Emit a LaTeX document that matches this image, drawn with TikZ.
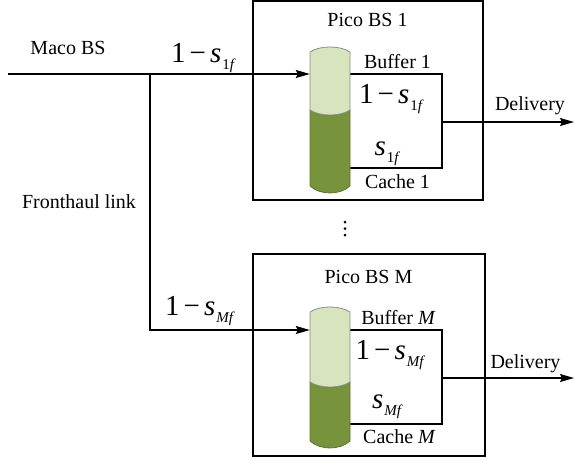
\documentclass[tikz,border=0pt]{standalone}
\usepackage{fontspec}
\setmainfont{Liberation Serif}
\usetikzlibrary{arrows.meta}
\definecolor{bufferfill}{HTML}{D7E4BD}
\definecolor{cachefill}{HTML}{77933C}
\definecolor{bufferedge}{HTML}{8C8C8C}
\definecolor{cacheedge}{HTML}{5E7530}
% small index set below the baseline
\newcommand\subtxt[1]{\kern1pt\raisebox{-7pt}{\fontsize{15}{15}\selectfont #1}}
% "1 - s_x" and "s_x" labels
\newcommand\ratiolbl[1]{1\kern4pt−\kern4pt\textit{s}\subtxt{#1}}
\newcommand\hitlbl[1]{\textit{s}\subtxt{#1}}

\begin{document}
\begin{tikzpicture}[x=1pt,y=-1pt,
  lbl/.style={inner sep=0pt, anchor=base, font=\fontsize{20}{24}\selectfont},
  mathlbl/.style={inner sep=0pt, anchor=base, font=\fontsize{29}{34}\selectfont},
  picobox/.style={draw, line width=1.1pt, inner sep=0pt},
  wire/.style={line width=1.1pt},
  flow/.style={wire, -{Stealth[length=14pt,width=8pt,inset=2pt]}},
  cylslot/.style={inner sep=0pt, minimum width=40pt},
  % stacked buffer/cache cylinder: #1 split depth, #2 bottom depth, #3 top bulge
  pics/cylinder/.style n args={3}{code={
    \filldraw[fill=cachefill, draw=cacheedge, line width=0.8pt]
      (0,#1) .. controls (10,#1+6.7) and (30,#1+6.7) .. (40,#1)
      -- (40,#2) .. controls (30,#2+9.3) and (10,#2+9.3) .. (0,#2) -- cycle;
    \filldraw[fill=bufferfill, draw=bufferedge, line width=0.8pt]
      (0,0) .. controls (10,-#3) and (30,-#3) .. (40,0)
      -- (40,#1) .. controls (30,#1+6.7) and (10,#1+6.7) .. (0,#1) -- cycle;
  }}
]
\useasboundingbox (0,0) rectangle (574,461);

% pico base station frames
\node[picobox, minimum width=230pt, minimum height=199pt] (pico1) at (368,100.5) {};
\node[picobox, minimum width=232pt, minimum height=202pt] (picoM) at (369,355) {};

% cylinder slots (used as connector targets)
\node[cylslot, minimum height=146pt] (cyl1) at (330,120) {};
\node[cylslot, minimum height=141pt] (cylM) at (330,377.5) {};

% fronthaul wiring
\coordinate (src) at (8,74);
\coordinate (split) at (150,74);
\coordinate (feedM) at (150,330);
\draw[flow] (src) -- (src -| cyl1.west);
\draw[flow] (split) |- (feedM -| cylM.west);

% buffer / cache merge paths and delivery
\coordinate (buf1) at (350,74);
\coordinate (join1) at (442,122);
\coordinate (cache1) at (350,168);
\coordinate (out1) at (574,122);
\draw[wire] (buf1) -| (join1) |- (cache1);
\draw[flow] (join1) -- (out1);

\coordinate (bufM) at (350,330);
\coordinate (joinM) at (442,378);
\coordinate (cacheM) at (350,424);
\coordinate (outM) at (574,378);
\draw[wire] (bufM) -| (joinM) |- (cacheM);
\draw[flow] (joinM) -- (outM);

% cylinders
\pic at (310,52) {cylinder={58}{134}{6.7}};
\pic at (310,312) {cylinder={70}{129}{6.7}};

% vertical ellipsis between the stations
\foreach \yy in {222,228.5,235}
  \fill (345,\yy) circle (1.5pt);

% labels
\node[lbl] (maco) at (68,54) {Maco BS};
\node[lbl] (front) at (79,208) {Fronthaul link};
\node[mathlbl] (r1) at (203.5,62) {\ratiolbl{1\textit{f}}};
\node[mathlbl] (rM) at (200,315) {\ratiolbl{\textit{Mf}}};

\node[lbl] (pico1t) at (367.5,26) {Pico BS 1};
\node[lbl] (buf1t) at (397.5,68) {Buffer 1};
\node[mathlbl] (r1in) at (391.5,103) {\ratiolbl{1\textit{f}}};
\node[mathlbl] (s1in) at (387.5,155) {\hitlbl{1\textit{f}}};
\node[lbl] (cache1t) at (397.5,188) {Cache 1};
\node[lbl] (del1) at (530,110) {Delivery};

\node[lbl] (picoMt) at (368.5,283) {Pico BS M};
\node[lbl] (bufMt) at (398.5,324) {Buffer \textit{M}};
\node[mathlbl] (rMin) at (390.5,359) {\ratiolbl{\textit{Mf}}};
\node[mathlbl] (sMin) at (387.5,408) {\hitlbl{\textit{Mf}}};
\node[lbl] (cacheMt) at (399.5,443) {Cache \textit{M}};
\node[lbl] (delM) at (525.5,368) {Delivery};
\end{tikzpicture}
\end{document}
